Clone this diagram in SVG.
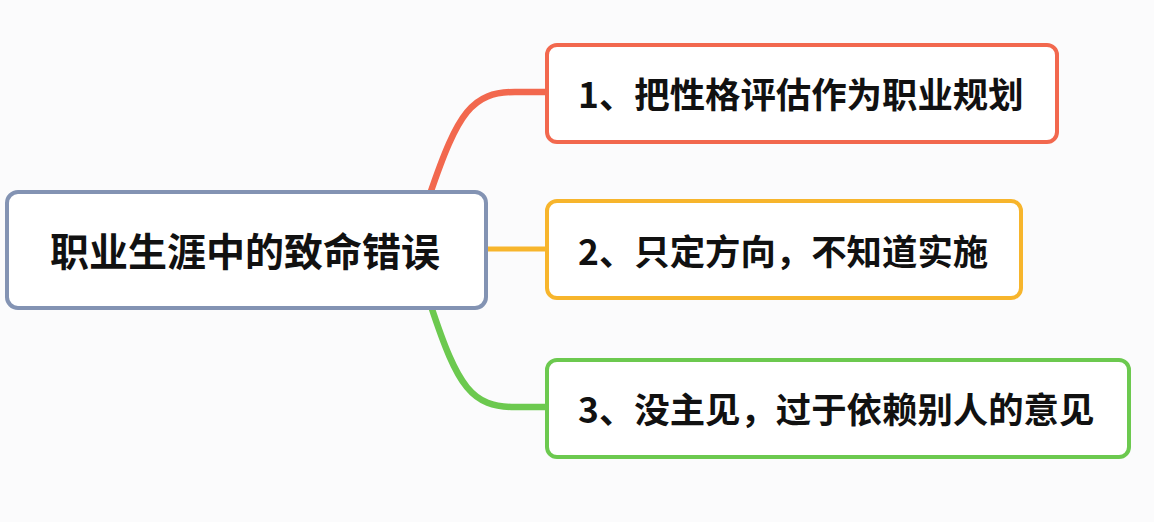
<svg xmlns="http://www.w3.org/2000/svg" width="1154" height="522" viewBox="0 0 1154 522">
<style>
.bg{fill:#fbfbfc}
.box{fill:#ffffff;stroke-width:4}
.t{font-family:"Noto Sans CJK SC","Noto Sans",sans-serif;font-weight:bold;fill:#111;dominant-baseline:central}
.c{fill:none;stroke-linecap:round}
</style>
<rect class="bg" x="0" y="0" width="1154" height="522"/>
<g id="connectors">
<path class="c" d="M430 194 C458 112 472 92 515 92 L549 92" stroke="#f2684e" stroke-width="6.5"/>
<path class="c" d="M488 249 L549 249" stroke="#f7b52c" stroke-width="5"/>
<path class="c" d="M431 306 C458 388 472 407 515 407 L549 407" stroke="#6cc94f" stroke-width="6.5"/>
</g>
<g id="root">
<rect class="box" x="7" y="192" width="479" height="116" rx="11" stroke="#8393b3"/>
<text class="t" x="245" y="249" font-size="39" text-anchor="middle">职业生涯中的致命错误</text>
</g>
<g id="n1">
<rect class="box" x="547" y="45" width="510" height="97" rx="10" stroke="#f2684e"/>
<text class="t" x="578" y="92" font-size="35.4">1、把性格评估作为职业规划</text>
</g>
<g id="n2">
<rect class="box" x="547" y="201" width="474" height="97" rx="10" stroke="#f7b52c"/>
<text class="t" x="578" y="249" font-size="35.4">2、只定方向，不知道实施</text>
</g>
<g id="n3">
<rect class="box" x="547" y="360" width="582" height="97" rx="10" stroke="#6cc94f"/>
<text class="t" x="578" y="407" font-size="35.4">3、没主见，过于依赖别人的意见</text>
</g>
</svg>
